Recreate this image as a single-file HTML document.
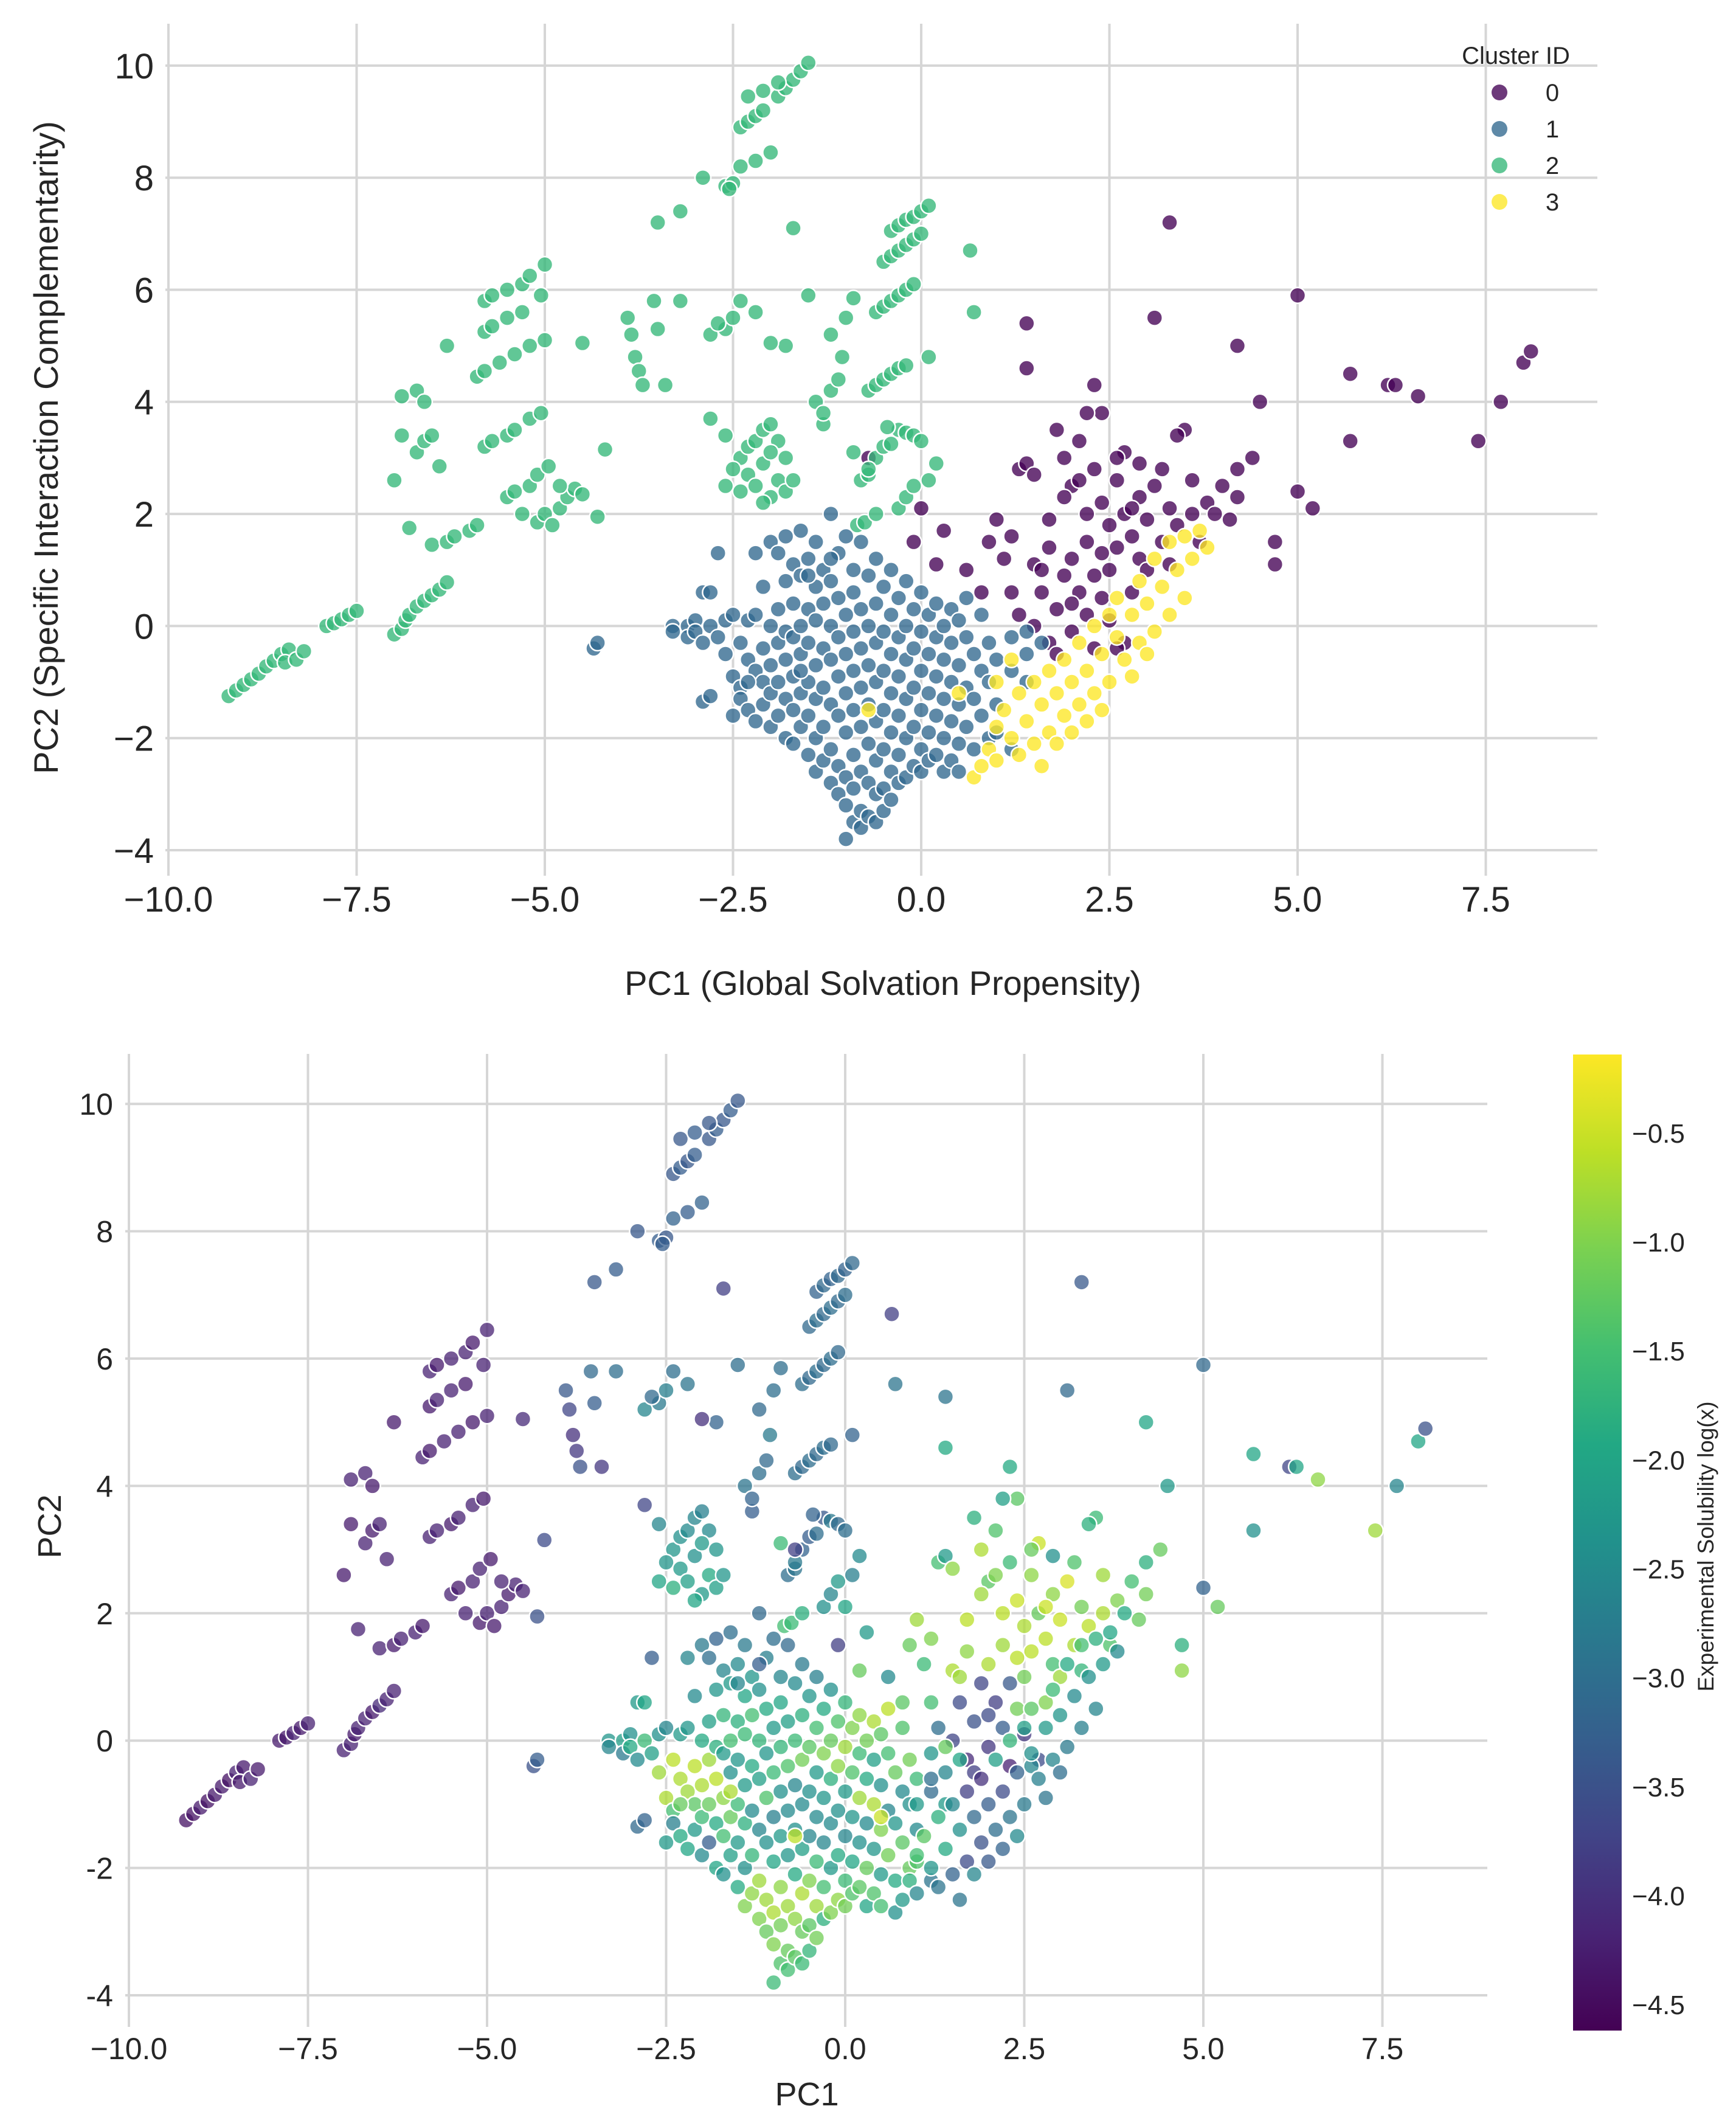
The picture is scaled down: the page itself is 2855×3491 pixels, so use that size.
<!DOCTYPE html>
<html><head><meta charset="utf-8">
<style>
html,body{margin:0;padding:0;background:#fff;}
svg{display:block;font-family:"Liberation Sans",Arial,sans-serif;}
</style></head>
<body>
<svg id="fig" width="2855" height="3491" viewBox="0 0 2855 3491" xmlns="http://www.w3.org/2000/svg">
<defs>
<linearGradient id="viridis" x1="0" y1="1" x2="0" y2="0">
<stop offset="0" stop-color="#440154"/><stop offset="0.1" stop-color="#482475"/>
<stop offset="0.2" stop-color="#414487"/><stop offset="0.3" stop-color="#355f8d"/>
<stop offset="0.4" stop-color="#2a788e"/><stop offset="0.5" stop-color="#21918c"/>
<stop offset="0.6" stop-color="#22a884"/><stop offset="0.7" stop-color="#44bf70"/>
<stop offset="0.8" stop-color="#7ad151"/><stop offset="0.9" stop-color="#bddf26"/>
<stop offset="1" stop-color="#fde725"/>
</linearGradient>
</defs>
<g id="top"></g>
<g id="bot"></g>
</svg>
<script>
// ---- data: [PC1, PC2, logS] per cluster ----
const cluster0Points = [
[0.9,1.5,-1.2],[1.0,1.9,-0.8],[1.2,1.6,-1.0],[1.3,2.8,-1.5],[1.4,2.9,-2.2],[1.5,2.7,-0.9],[1.5,1.1,-0.7],[1.6,0.6,-3.6],
[1.7,1.9,-0.6],[1.8,3.5,-1.8],[1.9,3.0,-0.7],[2.0,2.5,-1.3],[2.0,1.2,-0.7],[2.1,3.3,-1.4],[2.1,0.6,-3.8],[2.2,2.0,-0.6],
[2.2,1.5,-0.8],[2.3,2.8,-1.6],[2.3,0.9,-3.4],[2.4,3.8,-1.3],[2.4,2.2,-0.5],[2.5,1.8,-0.7],[2.5,1.0,-1.1],[2.5,0.1,-3.9],
[2.6,2.6,-0.9],[2.6,1.4,-0.6],[2.7,3.1,-0.5],[2.7,2.0,-1.2],[2.8,1.6,-0.6],[2.9,2.3,-0.9],[2.9,1.2,-1.5],[3.0,1.9,-0.5],
[3.1,2.5,-0.4],[3.2,1.5,-0.7],[3.3,2.1,-1.1],[3.4,1.8,-0.6],[3.5,3.5,-1.6],[3.6,2.0,-0.7],[3.7,1.5,-1.4],[3.8,2.2,-1.0],
[4.0,2.5,-1.5],[4.1,1.9,-1.2],[4.2,2.8,-1.8],[4.2,2.3,-1.1],[1.4,5.4,-2.9],[1.4,4.6,-1.9],[2.3,4.3,-1.9],[2.2,3.8,-2.1],
[3.1,5.5,-3.1],[3.3,7.2,-3.4],[3.4,3.4,-1.8],[4.2,5.0,-2.0],[4.5,4.0,-2.2],[4.4,3.0,-1.2],[4.7,1.5,-1.8],[4.7,1.1,-0.9],
[5.0,5.9,-3.1],[5.0,2.4,-3.2],[5.2,2.1,-1.2],[5.7,4.5,-2.0],[5.7,3.3,-2.4],[6.2,4.3,-3.7],[6.3,4.3,-2.0],[6.6,4.1,-0.9],
[7.4,3.3,-0.8],[7.7,4.0,-2.6],[8.0,4.7,-2.0],[8.1,4.9,-3.5],[1.5,0.0,-3.7],[1.7,-0.3,-4.1],[1.8,0.3,-3.5],[2.0,-0.1,-3.9],
[2.3,-0.4,-4.2],[2.4,0.5,-1.1],[2.7,-0.3,-3.6],[1.1,1.2,-1.6],[0.6,1.0,-2.5],[0.2,1.1,-1.2],[-0.1,1.5,-3.8],[0.3,1.7,-2.2],
[-0.7,3.0,-3.8],[0.0,2.1,-2.0],[0.8,0.6,-1.3],[1.9,0.9,-3.7],[2.8,0.6,-1.0],[3.0,1.0,-0.8],[1.2,0.6,-1.5],[1.7,1.4,-0.9],
[1.9,2.3,-0.8],[2.1,2.6,-1.0],[2.6,3.0,-1.2],[2.9,2.9,-2.4],[3.2,2.8,-1.4],[3.6,2.6,-0.8],[3.9,2.0,-1.9],[2.4,1.3,-0.6],
[2.2,0.2,-3.3],[1.6,1.0,-0.8],[2.8,2.1,-0.5],[3.3,1.1,-1.7],[1.3,0.2,-3.0],[2.0,0.4,-3.6],[1.8,-0.5,-3.8],[2.6,-0.4,-2.6]
];
const cluster1Points = [
[-4.35,-0.4,-3.5],[-4.3,-0.3,-3.3],[-3.3,0.0,-2.3],[-3.3,-0.1,-2.6],[-3.1,0.0,-2.1],[-3.1,-0.2,-2.8],[-3.0,0.1,-2.4],[-3.0,-0.1,-1.9],
[-2.9,0.6,-2.2],[-2.9,-0.3,-2.5],[-2.9,-1.35,-3.1],[-2.8,0.6,-2.0],[-2.8,0.0,-1.6],[-2.8,-1.25,-3.2],[-2.7,1.3,-3.3],[-2.7,-0.2,-2.1],
[-2.6,-0.5,-0.8],[-2.6,0.1,-2.4],[-2.5,-0.9,-0.7],[-2.5,-1.6,-2.2],[-2.5,0.2,-2.6],[-2.4,-0.3,-0.6],[-2.4,-1.1,-1.5],[-2.4,-1.3,-2.7],
[-2.3,0.1,-2.2],[-2.3,-0.6,-0.7],[-2.3,-1.5,-1.9],[-2.2,1.3,-2.6],[-2.2,0.2,-2.3],[-2.2,-0.8,-0.8],[-2.2,-1.7,-2.0],[-2.1,0.7,-2.5],
[-2.1,-0.4,-0.6],[-2.1,-1.0,-1.3],[-2.1,-1.4,-2.2],[-2.0,1.5,-2.8],[-2.0,0.0,-1.9],[-2.0,-0.7,-0.7],[-2.0,-1.2,-1.6],[-2.0,-1.8,-2.5],
[-1.9,1.3,-3.0],[-1.9,0.3,-2.1],[-1.9,-0.3,-0.8],[-1.9,-1.0,-1.2],[-1.9,-1.6,-3.3],[-1.8,1.6,-3.2],[-1.8,0.8,-2.3],[-1.8,-0.1,-1.8],
[-1.8,-0.6,-0.6],[-1.8,-1.3,-1.9],[-1.8,-2.0,-2.0],[-1.7,1.1,-2.6],[-1.7,0.4,-1.7],[-1.7,-0.2,-2.2],[-1.7,-0.9,-0.9],[-1.7,-1.5,-1.5],
[-1.7,-2.1,-2.4],[-1.6,1.7,-3.0],[-1.6,0.9,-2.2],[-1.6,0.0,-1.5],[-1.6,-0.5,-2.4],[-1.6,-1.2,-1.2],[-1.6,-1.8,-2.1],[-1.5,1.2,-2.5],
[-1.5,0.3,-1.8],[-1.5,-0.3,-2.3],[-1.5,-1.0,-1.6],[-1.5,-1.6,-2.2],[-1.5,-2.3,-1.9],[-1.4,1.5,-2.8],[-1.4,0.7,-2.0],[-1.4,0.1,-1.6],
[-1.4,-0.7,-2.2],[-1.4,-1.3,-1.8],[-1.4,-2.0,-2.4],[-1.4,-2.6,-1.0],[-1.3,1.0,-2.3],[-1.3,0.4,-1.5],[-1.3,-0.4,-1.9],[-1.3,-1.1,-2.5],
[-1.3,-1.8,-1.7],[-1.3,-2.4,-0.9],[-1.2,2.0,-3.1],[-1.2,0.8,-2.4],[-1.2,0.0,-1.7],[-1.2,-0.6,-2.1],[-1.2,-1.4,-2.6],[-1.2,-2.2,-0.8],
[-1.2,-2.8,-1.0],[-1.1,1.3,-2.7],[-1.1,0.5,-1.9],[-1.1,-0.2,-2.3],[-1.1,-0.9,-1.4],[-1.1,-1.6,-2.4],[-1.1,-2.5,-0.8],[-1.1,-3.0,-1.2],
[-1.0,1.6,-3.0],[-1.0,0.2,-2.2],[-1.0,-0.5,-1.6],[-1.0,-1.2,-2.7],[-1.0,-1.9,-2.0],[-1.0,-2.7,-0.7],[-1.0,-3.2,-1.0],[-1.0,-3.8,-1.6],
[-0.9,1.0,-2.6],[-0.9,0.6,-2.0],[-0.9,-0.1,-1.7],[-0.9,-0.8,-2.4],[-0.9,-1.5,-2.2],[-0.9,-2.3,-0.9],[-0.9,-2.9,-1.1],[-0.9,-3.5,-1.4],
[-0.8,1.5,-3.1],[-0.8,0.3,-2.1],[-0.8,-0.4,-1.4],[-0.8,-1.1,-2.5],[-0.8,-1.8,-2.3],[-0.8,-2.6,-0.8],[-0.8,-3.3,-1.2],[-0.8,-3.6,-1.5],
[-0.7,0.9,-2.5],[-0.7,0.0,-1.6],[-0.7,-0.7,-2.6],[-0.7,-1.4,-2.4],[-0.7,-2.1,-1.9],[-0.7,-2.8,-0.9],[-0.7,-3.4,-1.3],[-0.6,1.2,-2.8],
[-0.6,0.4,-1.8],[-0.6,-0.3,-1.1],[-0.6,-1.0,-2.5],[-0.6,-1.7,-2.1],[-0.6,-2.4,-0.7],[-0.6,-3.0,-1.2],[-0.6,-3.5,-1.6],[-0.5,0.7,-2.3],
[-0.5,-0.1,-1.3],[-0.5,-0.8,-2.4],[-0.5,-1.5,-2.6],[-0.5,-2.2,-1.0],[-0.5,-2.9,-1.3],[-0.5,-3.3,-1.7],[-0.4,1.0,-2.7],[-0.4,0.2,-1.5],
[-0.4,-0.5,-2.2],[-0.4,-1.2,-2.5],[-0.4,-1.9,-1.6],[-0.4,-2.6,-0.8],[-0.4,-3.1,-1.1],[-0.3,0.5,-1.9],[-0.3,-0.2,-1.0],[-0.3,-0.9,-2.3],
[-0.3,-1.6,-2.6],[-0.3,-2.3,-1.5],[-0.3,-2.8,-1.8],[-0.2,0.8,-2.4],[-0.2,0.0,-1.2],[-0.2,-0.6,-1.8],[-0.2,-1.3,-2.5],[-0.2,-2.0,-2.2],
[-0.2,-2.7,-1.0],[-0.1,0.3,-1.4],[-0.1,-0.4,-0.9],[-0.1,-1.1,-2.4],[-0.1,-1.8,-1.9],[-0.1,-2.5,-0.9],[0.0,0.6,-1.7],[0.0,-0.1,-0.8],
[0.0,-0.8,-2.2],[0.0,-1.5,-2.6],[0.0,-2.2,-1.6],[0.0,-2.6,-1.1],[0.1,0.2,-1.0],[0.1,-0.5,-1.4],[0.1,-1.2,-2.3],[0.1,-1.9,-2.0],
[0.1,-2.4,-1.4],[0.2,0.4,-0.9],[0.2,-0.2,-1.6],[0.2,-0.9,-0.8],[0.2,-1.6,-2.4],[0.2,-2.3,-1.3],[0.3,0.0,-1.1],[0.3,-0.6,-1.9],
[0.3,-1.3,-2.5],[0.3,-2.0,-1.2],[0.3,-2.6,-2.0],[0.4,0.3,-0.7],[0.4,-0.3,-2.1],[0.4,-1.0,-0.7],[0.4,-1.7,-2.3],[0.4,-2.4,-1.4],
[0.5,0.1,-1.3],[0.5,-0.7,-2.4],[0.5,-1.4,-1.0],[0.5,-2.1,-2.2],[0.5,-2.6,-1.5],[0.6,0.5,-0.6],[0.6,-0.2,-1.5],[0.6,-1.1,-2.6],
[0.6,-1.8,-1.1],[0.7,-0.5,-1.2],[0.7,-1.3,-2.3],[0.7,-2.2,-1.9],[0.8,0.2,-1.4],[0.8,-0.8,-2.5],[0.8,-1.6,-1.3],[0.9,-0.3,-1.1],
[0.9,-1.0,-2.4],[0.9,-2.0,-1.2],[1.0,-0.6,-1.6],[1.0,-1.4,-2.5],[1.0,-1.9,-1.4],[1.2,-0.2,-2.3],[1.2,-0.8,-3.1],[1.2,-2.2,-2.9],
[1.4,-0.1,-1.2],[1.4,-0.5,-2.6],[1.4,-1.0,-2.2],[1.6,-0.3,-2.0],[-1.5,0.9,-2.6],[-1.2,1.2,-3.3],[-2.3,-1.0,-1.2],[-1.6,-0.8,-0.7]
];
const cluster2Points = [
[-9.2,-1.25,-4.4],[-9.1,-1.15,-4.4],[-9.0,-1.05,-4.3],[-8.9,-0.95,-4.4],[-8.8,-0.85,-4.3],[-8.7,-0.72,-4.3],[-8.6,-0.62,-4.4],[-8.5,-0.5,-4.2],
[-8.4,-0.42,-4.3],[-8.45,-0.65,-4.3],[-8.3,-0.6,-4.2],[-8.2,-0.45,-4.3],[-7.9,0.0,-4.3],[-7.8,0.05,-4.3],[-7.7,0.12,-4.2],[-7.6,0.2,-4.3],
[-7.5,0.27,-4.2],[-7.0,-0.15,-4.2],[-6.9,-0.05,-4.2],[-6.85,0.1,-4.3],[-6.8,0.2,-4.2],[-6.7,0.35,-4.2],[-6.6,0.45,-4.3],[-6.5,0.55,-4.1],
[-6.4,0.65,-4.2],[-6.3,0.78,-4.2],[-7.0,2.6,-4.3],[-6.8,1.75,-4.2],[-6.5,1.45,-4.2],[-6.3,1.5,-4.3],[-6.2,1.6,-4.2],[-6.0,1.7,-4.2],
[-5.9,1.8,-4.3],[-6.9,3.4,-4.3],[-6.9,4.1,-4.2],[-6.7,4.2,-4.2],[-6.6,4.0,-4.3],[-6.7,3.1,-4.2],[-6.6,3.3,-4.3],[-6.5,3.4,-4.2],
[-6.4,2.85,-4.2],[-6.3,5.0,-4.3],[-5.8,3.2,-4.2],[-5.7,3.3,-4.2],[-5.5,3.4,-4.3],[-5.4,3.5,-4.2],[-5.2,3.7,-4.2],[-5.05,3.8,-4.3],
[-5.9,4.45,-4.2],[-5.8,4.55,-4.3],[-5.6,4.7,-4.2],[-5.4,4.85,-4.2],[-5.2,5.0,-4.3],[-5.0,5.1,-4.2],[-5.8,5.25,-4.3],[-5.7,5.35,-4.2],
[-5.5,5.5,-4.2],[-5.3,5.6,-4.3],[-5.05,5.9,-4.2],[-5.8,5.8,-4.2],[-5.7,5.9,-4.3],[-5.5,6.0,-4.2],[-5.3,6.1,-4.2],[-5.2,6.25,-4.3],
[-5.0,6.45,-4.2],[-5.5,2.3,-4.2],[-5.4,2.4,-4.3],[-5.2,2.5,-4.2],[-5.1,2.7,-4.2],[-4.95,2.85,-4.3],[-5.3,2.0,-4.2],[-5.1,1.85,-4.3],
[-5.0,2.0,-4.2],[-4.8,2.1,-4.2],[-4.7,2.3,-4.3],[-4.6,2.45,-4.2],[-4.8,2.5,-4.2],[-4.9,1.8,-4.3],[-4.5,2.35,-4.2],[-4.5,5.05,-4.1],
[-4.2,3.15,-3.6],[-4.3,1.95,-3.5],[-3.9,5.5,-3.4],[-3.85,5.2,-3.7],[-3.8,4.8,-4.0],[-3.75,4.55,-3.9],[-3.7,4.3,-3.5],[-3.55,5.8,-3.1],
[-3.5,5.3,-3.3],[-3.4,4.3,-3.9],[-3.5,7.2,-3.4],[-3.2,7.4,-3.3],[-2.9,8.0,-3.4],[-2.6,7.85,-3.3],[-2.5,7.9,-3.4],[-2.4,8.2,-3.2],
[-2.2,8.3,-3.3],[-2.0,8.45,-3.2],[-2.55,7.8,-3.3],[-2.4,8.9,-3.4],[-2.3,9.0,-3.3],[-2.2,9.1,-3.4],[-2.1,9.2,-3.3],[-1.9,9.45,-3.4],
[-1.8,9.6,-3.3],[-1.7,9.75,-3.4],[-1.6,9.9,-3.3],[-1.5,10.05,-3.4],[-2.3,9.45,-3.4],[-2.1,9.55,-3.3],[-1.9,9.7,-3.4],[-1.7,7.1,-3.8],
[-1.5,5.9,-3.0],[-1.8,5.0,-3.2],[-2.0,5.05,-4.0],[-2.2,5.6,-2.9],[-2.4,5.8,-3.0],[-2.6,5.3,-2.8],[-2.5,5.5,-2.7],[-2.8,5.2,-2.6],
[-3.2,5.8,-3.0],[-2.7,5.4,-3.1],[-2.8,3.7,-3.7],[-2.6,3.4,-2.6],[-2.4,3.0,-2.3],[-2.3,3.2,-2.4],[-2.2,3.3,-2.5],[-2.1,3.5,-2.6],
[-2.0,3.6,-2.7],[-1.9,3.3,-2.5],[-2.5,2.8,-2.3],[-2.3,2.7,-2.2],[-2.1,2.9,-2.4],[-2.0,3.1,-2.2],[-1.8,3.0,-2.3],[-2.6,2.5,-2.0],
[-2.2,2.5,-2.1],[-2.0,2.3,-2.2],[-1.9,2.6,-1.9],[-1.8,2.4,-2.1],[-2.4,2.4,-1.8],[-2.1,2.2,-2.0],[-1.7,2.6,-2.3],[-1.4,4.0,-2.9],
[-1.3,3.6,-3.3],[-1.2,4.2,-3.0],[-1.1,4.4,-3.1],[-1.05,4.8,-2.8],[-1.0,5.5,-3.0],[-1.2,5.2,-3.1],[-0.9,5.85,-3.0],[-1.3,3.8,-3.2],
[-0.9,3.1,-1.6],[-0.8,2.6,-3.0],[-0.7,2.7,-2.9],[-0.6,3.0,-3.2],[-0.5,3.2,-3.3],[-0.4,3.25,-3.0],[-0.3,3.5,-3.4],[-0.2,3.45,-2.8],
[-0.1,3.4,-3.1],[0.0,3.3,-3.0],[-0.85,1.8,-1.5],[-0.75,1.85,-1.6],[-0.6,2.0,-1.8],[-0.3,2.1,-2.4],[-0.2,2.3,-2.6],[-0.1,2.5,-2.2],
[0.1,2.6,-2.7],[0.2,2.9,-2.5],[-0.7,4.2,-3.0],[-0.6,4.3,-3.1],[-0.5,4.4,-3.0],[-0.4,4.5,-3.1],[-0.3,4.6,-3.0],[-0.2,4.65,-3.1],
[0.1,4.8,-3.2],[-0.6,5.6,-3.0],[-0.5,5.7,-3.1],[-0.4,5.8,-3.0],[-0.3,5.9,-3.1],[-0.2,6.0,-3.0],[-0.1,6.1,-3.1],[-0.5,6.5,-3.1],
[-0.4,6.6,-3.0],[-0.3,6.7,-3.1],[-0.2,6.8,-3.0],[-0.1,6.9,-3.1],[0.0,7.0,-3.0],[-0.4,7.05,-3.2],[-0.3,7.15,-3.1],[-0.2,7.25,-3.2],
[-0.1,7.3,-3.1],[0.0,7.4,-3.2],[0.1,7.5,-3.1],[0.65,6.7,-3.8],[0.7,5.6,-2.9],[-0.45,3.55,-3.2],[-0.7,2.8,-2.8]
];
const cluster3Points = [
[0.7,-2.7,-2.4],[0.8,-2.5,-2.2],[0.9,-2.2,-1.8],[1.0,-2.4,-2.6],[1.0,-1.8,-1.5],[1.1,-1.5,-1.3],[1.2,-2.0,-2.3],[1.3,-1.2,-1.8],
[1.3,-2.3,-2.9],[1.4,-1.7,-1.9],[1.5,-1.0,-2.6],[1.5,-2.1,-3.2],[1.6,-1.4,-2.4],[1.7,-0.8,-3.8],[1.7,-1.9,-3.6],[1.8,-1.2,-3.1],
[1.9,-0.6,-4.0],[1.9,-1.6,-3.5],[2.0,-1.0,-3.3],[2.1,-0.3,-2.1],[2.1,-1.4,-3.0],[2.2,-0.8,-3.6],[2.3,-1.2,-2.9],[2.3,0.0,-1.7],
[2.4,-0.5,-3.2],[2.5,-1.0,-2.8],[2.6,-0.2,-2.4],[2.6,0.5,-1.3],[2.7,-0.6,-2.7],[2.8,0.2,-2.2],[2.9,-0.3,-2.6],[2.9,0.8,-1.6],
[3.0,0.4,-2.3],[3.1,1.2,-1.9],[3.1,-0.1,-2.8],[3.2,0.7,-2.5],[3.3,1.5,-1.5],[3.3,0.2,-2.7],[3.4,1.0,-2.4],[3.5,1.6,-1.8],
[3.5,0.5,-2.6],[3.6,1.2,-2.2],[3.7,1.7,-2.0],[3.8,1.4,-2.5],[2.0,-1.9,-3.4],[1.6,-2.5,-2.9],[2.2,-1.7,-3.2],[2.8,-0.9,-2.9],
[0.5,-1.2,-0.5],[-0.7,-1.5,-0.6],[1.2,-0.6,-3.0],[1.0,-1.0,-2.2],[2.4,-1.5,-2.5],[1.8,-2.1,-2.6],[3.0,-0.5,-3.0],[2.5,0.2,-2.1]
];
const xTicks = [-10, -7.5, -5, -2.5, 0, 2.5, 5, 7.5];
const xTickLabels = ["\u221210.0","\u22127.5","\u22125.0","\u22122.5","0.0","2.5","5.0","7.5"];
const yTicks = [10, 8, 6, 4, 2, 0, -2, -4];
const yTickLabelsTop = ["10","8","6","4","2","0","\u22122","\u22124"];
const yTickLabelsBot = ["10","8","6","4","2","0","-2","-4"];
const cbarTicks = [-0.5, -1.0, -1.5, -2.0, -2.5, -3.0, -3.5, -4.0, -4.5];
const cbarTickLabels = ["\u22120.5","\u22121.0","\u22121.5","\u22122.0","\u22122.5","\u22123.0","\u22123.5","\u22124.0","\u22124.5"];
const clusterIds = ["0","1","2","3"];
const clusterColors = ["#440154","#31688e","#35b779","#fde725"];

const NS = "http://www.w3.org/2000/svg";
const R = 13;
function mk(parent, tag, attrs, text){
  const e = document.createElementNS(NS, tag);
  for (const k in attrs) e.setAttribute(k, attrs[k]);
  if (text !== undefined) e.textContent = text;
  parent.appendChild(e); return e;
}
const V = ["#440154","#482475","#414487","#355f8d","#2a788e","#21918c","#22a884","#44bf70","#7ad151","#bddf26","#fde725"];
function hex(h){return [parseInt(h.substr(1,2),16),parseInt(h.substr(3,2),16),parseInt(h.substr(5,2),16)];}
function viridis(t){
  t = Math.max(0, Math.min(1, t)); const f = t*10; const i = Math.min(9, Math.floor(f)); const r = f - i;
  const a = hex(V[i]), b = hex(V[i+1]);
  return "rgb(" + a.map((v,k)=>Math.round(v+(b[k]-v)*r)).join(",") + ")";
}
const CMIN = -4.62, CMAX = -0.14;

function buildAxes(g, A, yLabels, tickFont, namePrefix){
  const sx = v => A.x0 + (v - A.xmin) * A.kx;
  const sy = v => A.y0 - (v - A.ymin) * A.ky;
  const grid = mk(g, "g", {});
  
  
  xTicks.forEach((t, i) => {
    const l = mk(grid, "line", {x1:sx(t), x2:sx(t), y1:A.top, y2:A.bottom, stroke:"#d6d6d6", "stroke-width":4});
    
    
    const tx = mk(g, "text", {x:sx(t), y:A.xLabY, "font-size":tickFont, "text-anchor":"middle", fill:"#262626"}, xTickLabels[i]);
    
    
  });
  yTicks.forEach((t, i) => {
    const l = mk(grid, "line", {x1:A.left, x2:A.right, y1:sy(t), y2:sy(t), stroke:"#d6d6d6", "stroke-width":4});
    
    
    const tx = mk(g, "text", {x:A.yLabX, y:sy(t) + tickFont*0.36, "font-size":tickFont, "text-anchor":"end", fill:"#262626"}, yLabels[i]);
    
    
  });
  return {sx, sy};
}

// ---------------- TOP PLOT ----------------
const topG = document.getElementById("top");
const TA = {left:272, right:2627, top:39, bottom:1440, x0:277, xmin:-10, kx:123.8, y0:1398, ymin:-4, ky:92.15, xLabY:1499, yLabX:253};
const ts = buildAxes(topG, TA, yTickLabelsTop, 58, 'top');
const topPts = mk(topG, "g", {"fill-opacity":0.78, stroke:"#ffffff", "stroke-width":2.5});


[cluster0Points, cluster1Points, cluster2Points, cluster3Points].forEach((pts, ci) => {
  pts.forEach(p => {
    const c = mk(topPts, "circle", {cx:ts.sx(p[0]), cy:ts.sy(p[1]), r:R, fill:clusterColors[ci]});
    
    
  });
});
const tyl = mk(topG, "text", {x:0, y:0, transform:"translate(95,736) rotate(-90)", "font-size":56, "text-anchor":"middle", fill:"#262626"}, "PC2 (Specific Interaction Complementarity)");


const txl = mk(topG, "text", {x:1452, y:1636, "font-size":56, "text-anchor":"middle", fill:"#262626"}, "PC1 (Global Solvation Propensity)");


const leg = mk(topG, "g", {});


const lt = mk(leg, "text", {x:2493, y:105, "font-size":40, "text-anchor":"middle", fill:"#262626"}, "Cluster ID");


clusterIds.forEach((id, i) => {
  const y = 152 + i*60;
  const m = mk(leg, "circle", {cx:2466, cy:y, r:R, fill:clusterColors[i], "fill-opacity":0.78});
  
  
  const t = mk(leg, "text", {x:2553, y:y+14, "font-size":40, "text-anchor":"middle", fill:"#262626"}, id);
  
  
});

// ---------------- BOTTOM PLOT ----------------
const botG = document.getElementById("bot");
const BA = {left:206, right:2446, top:1733, bottom:3333, x0:212, xmin:-10, kx:117.8, y0:3281, ymin:-4, ky:104.7, xLabY:3386, yLabX:186};
const bs = buildAxes(botG, BA, yTickLabelsBot, 50, 'bottom');
const botPts = mk(botG, "g", {"fill-opacity":0.75, stroke:"#ffffff", "stroke-width":2.5});


[cluster2Points, cluster0Points, cluster1Points, cluster3Points].forEach(pts => {
  pts.forEach(p => {
    const c = mk(botPts, "circle", {cx:bs.sx(p[0]), cy:bs.sy(p[1]), r:R, fill:viridis((p[2]-CMIN)/(CMAX-CMIN))});
    
    
  });
});
const byl = mk(botG, "text", {x:0, y:0, transform:"translate(100,2510) rotate(-90)", "font-size":54, "text-anchor":"middle", fill:"#262626"}, "PC2");


const bxl = mk(botG, "text", {x:1327, y:3462, "font-size":54, "text-anchor":"middle", fill:"#262626"}, "PC1");



// colorbar
const CB = {x:2587, w:80, top:1734, bottom:3339};
const cy = v => CB.top + (CMAX - v) / (CMAX - CMIN) * (CB.bottom - CB.top);
const cbar = mk(botG, "rect", {x:CB.x, y:CB.top, width:CB.w, height:CB.bottom-CB.top, fill:"url(#viridis)"});


cbarTicks.forEach((t, i) => {
  const tx = mk(botG, "text", {x:2684, y:cy(t)+16, "font-size":44, fill:"#262626"}, cbarTickLabels[i]);
  
  
});
const cbl = mk(botG, "text", {x:0, y:0, transform:"translate(2818,2543) rotate(-90)", "font-size":37, "text-anchor":"middle", fill:"#262626"}, "Experimental Solubility log(x)");


</script>
</body></html>
